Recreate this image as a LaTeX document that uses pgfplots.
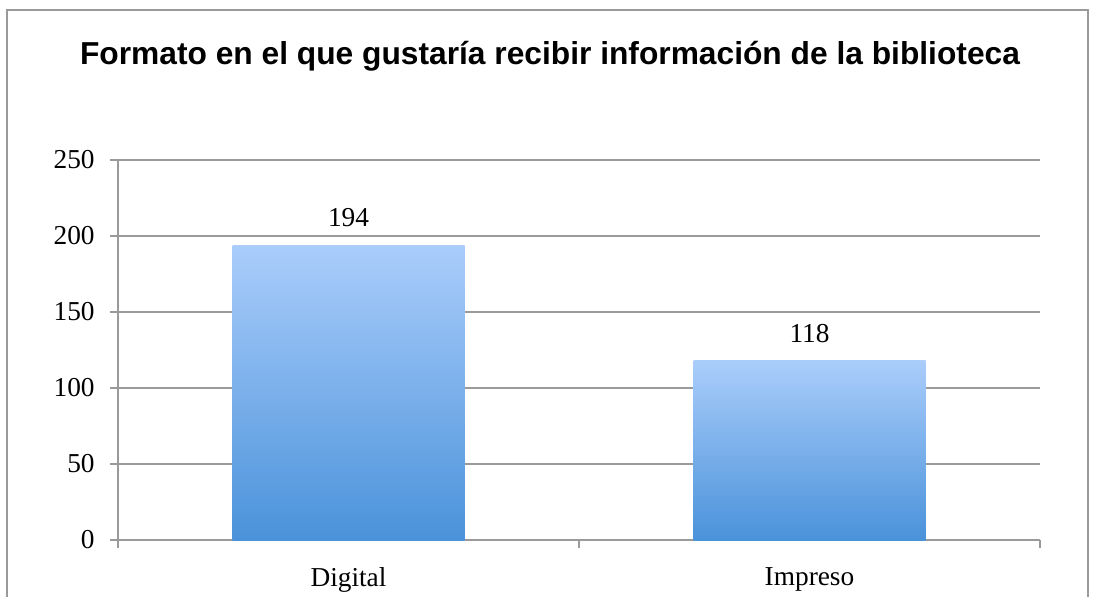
\documentclass[border=0pt]{standalone}
\usepackage{pgfplots}
\pgfplotsset{compat=1.18}
\usepackage{fontspec}
\setmainfont{Liberation Serif}
\newfontfamily\titlefont{Liberation Sans}
\definecolor{gridc}{HTML}{9A9A9A}
\definecolor{bartop}{HTML}{AACDFB}
\definecolor{barbot}{HTML}{4A92DA}
\begin{document}
\begin{tikzpicture}[x=0.75pt,y=0.75pt]
\path[use as bounding box] (0,0) rectangle (1096,597);
\draw[gridc,line width=1.2pt] (7,0) -- (7,587) -- (1088,587) -- (1088,0);
\node[font=\titlefont\bfseries\fontsize{23.8}{26}\selectfont] at (550,541) {Formato en el que gustaría recibir información de la biblioteca};
\begin{axis}[
  at={(88.5pt,42.75pt)}, anchor=south west,
  scale only axis, width=691.5pt, height=285pt,
  xmin=-0.5, xmax=1.5, ymin=0, ymax=250,
  ytick={0,50,...,250},
  ymajorgrids, grid style={gridc, line width=0.9pt},
  axis x line*=bottom, axis y line*=left,
  axis line style={gridc, line width=0.9pt},
  tick style={gridc, line width=0.9pt},
  tick align=outside, major tick length=6pt,
  xtick={-0.5,0.5,1.5}, xticklabels={},
  extra x ticks={0,1}, extra x tick labels={Digital,Impreso},
  extra x tick style={major tick length=0pt, tick label style={yshift=-17pt}},
  ticklabel style={font=\fontsize{20.5}{22}\selectfont},
  /pgf/number format/assume math mode=true,
  yticklabel style={xshift=-8pt},
  nodes near coords,
  every node near coord/.append style={font=\fontsize{20.5}{22}\selectfont, yshift=10pt},
  bar shift=0pt,
]
\addplot[ybar, bar width=174pt, draw=none, top color=bartop, bottom color=barbot, shading=axis] coordinates {(0,194)};
\addplot[ybar, bar width=174pt, draw=none, top color=bartop, bottom color=barbot, shading=axis] coordinates {(1,118)};
\end{axis}
\end{tikzpicture}
\end{document}
